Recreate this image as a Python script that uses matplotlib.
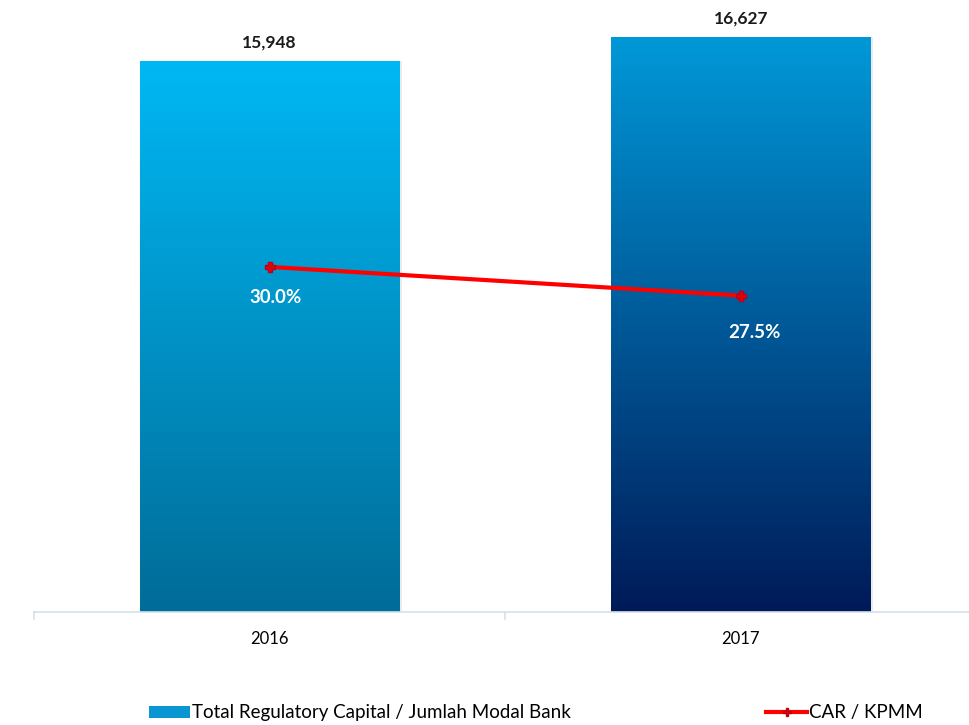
import numpy as np
import matplotlib.pyplot as plt
from matplotlib.patches import Patch
from matplotlib.lines import Line2D
from matplotlib.colors import LinearSegmentedColormap

plt.rcParams['font.family'] = ['Lato', 'DejaVu Sans']

years = ['2016', '2017']
capital = [15948, 16627]
car = [30.0, 27.5]

# top / bottom colours of each bar's gradient
grad_colors = [('#00B8F4', '#006C98'), ('#0098D8', '#001A58')]

fig = plt.figure(figsize=(9.69, 7.25), dpi=100)
ax = fig.add_axes([34 / 969, 113 / 725, 942.5 / 969, 612 / 725])

x = np.arange(len(years))
bars = ax.bar(x, capital, width=0.55, facecolor='none', edgecolor='none', zorder=2)

grad = np.linspace(0, 1, 256).reshape(-1, 1)
for bar, (c_top, c_bot) in zip(bars, grad_colors):
    x0, y0 = bar.get_x(), bar.get_y()
    w, h = bar.get_width(), bar.get_height()
    # soft shadow on the right edge
    ax.add_patch(plt.Rectangle((x0 + 0.006, y0), w, h, facecolor='#000000', alpha=0.08,
                               edgecolor='none', zorder=1))
    cmap = LinearSegmentedColormap.from_list('g', [c_bot, c_top])
    im = ax.imshow(grad, cmap=cmap, aspect='auto', origin='lower',
                   extent=[x0, x0 + w, y0, y0 + h], zorder=2)
    im.set_clip_path(bar)
    ax.text(x0 + w / 2, h + 300, f'{h:,.0f}', ha='center', va='bottom',
            fontsize=12.5, fontweight='bold', color='#1a1a1a')

ax.set_aspect('auto')
ax.set_xlim(-0.5, 1.5)
ax.set_ylim(0, 17705)

for side in ['top', 'right', 'left']:
    ax.spines[side].set_visible(False)
ax.spines['bottom'].set_color('#D5DFEE')
ax.spines['bottom'].set_linewidth(1.2)
ax.set_yticks([])
ax.set_xticks(x)
ax.set_xticklabels(years, fontsize=12)
ax.tick_params(axis='x', length=0, pad=14)
# category separators under the axis line
for t in [-0.5, 0.5, 1.5]:
    ax.plot([t, t], [0, -190], color='#D5DFEE', lw=1.2, clip_on=False, zorder=3)

ax2 = ax.twinx()
ax2.set_ylim(0, 53.2)
ax2.plot(x, car, color='#FF0000', lw=3, marker='P', markersize=7,
         markerfacecolor='#E00010', markeredgecolor='#C00010', zorder=5)
for xi, v, dx, dy in zip(x, car, [0.013, 0.028], [1.9, 2.5]):
    ax2.text(xi + dx, v - dy, f'{v:.1f}%', ha='center', va='top', fontsize=13.5,
             fontweight='bold', color='white')
ax2.axis('off')

handles = [Patch(facecolor='#0A96D2', edgecolor='none'),
           Line2D([], [], color='#FF0000', lw=3, marker='P', markersize=6,
                  markerfacecolor='#E00010', markeredgecolor='#C00010')]
fig.legend(handles, ['Total Regulatory Capital / Jumlah Modal Bank', 'CAR / KPMM'],
           loc='lower left', bbox_to_anchor=(132 / 969, -0.018), ncol=2, frameon=False,
           fontsize=13.5, handlelength=2.2, handleheight=0.6, handletextpad=0.1,
           columnspacing=10.4)

fig.savefig('out.png', dpi=100)
